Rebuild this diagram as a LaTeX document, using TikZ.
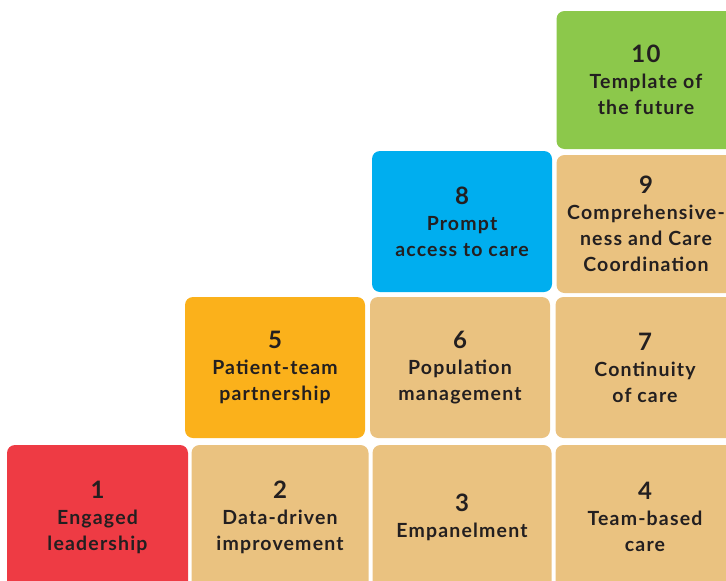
\documentclass[tikz,border=0pt]{standalone}
\usepackage{fontspec}
\setsansfont{Lato}[LetterSpace=6]
\usepackage{tikz}
\usetikzlibrary{positioning}
\definecolor{pcred}{HTML}{EE3B44}
\definecolor{pctan}{HTML}{EAC280}
\definecolor{pcorange}{HTML}{FBB11B}
\definecolor{pcblue}{HTML}{00AEEF}
\definecolor{pcgreen}{HTML}{8CC84B}
\definecolor{pctext}{HTML}{231F20}
\newcommand{\tilenum}[1]{{\fontsize{24}{27}\selectfont #1}}

\begin{document}
\begin{tikzpicture}[
    x=1pt, y=-1pt,
    tile/.style={rectangle, rounded corners=8pt, minimum width=179pt, minimum height=141pt, inner sep=0pt, align=center, text=pctext, font=\sffamily\bfseries\fontsize{19.5}{26}\selectfont}
]

\clip (0,0) rectangle (726,581);

% Bottom row
\node[tile, fill=pcred, minimum width=181pt, minimum height=144pt] (t1) at (97.5,517) {\tilenum{1}\\Engaged\\leadership};
\node[tile, fill=pctan, minimum width=177pt, minimum height=144pt] (t2) at (280,517) {\tilenum{2}\\Data-driven\\improvement};
\node[tile, fill=pctan, minimum height=144pt] (t3) at (462,517) {\tilenum{3}\\Empanelment};
\node[tile, fill=pctan, minimum height=144pt] (t4) at (645,517) {\tilenum{4}\\Team-based\\care};

% Second row
\node[tile, fill=pcorange, minimum width=180pt] (t5) at (275,367.5) {\tilenum{5}\\Patient-team\\partnership};
\node[tile, fill=pctan, minimum width=180pt] (t6) at (460,367.5) {\tilenum{6}\\Population\\management};
\node[tile, fill=pctan] (t7) at (645,367.5) {\tilenum{7}\\Continuity\\of care};

% Third row
\node[tile, fill=pcblue, minimum width=180pt] (t8) at (462,221.5) {\tilenum{8}\\Prompt\\access to care};
\node[tile, fill=pctan, minimum height=138pt] (t9) at (646,224) {\tilenum{9}\\Comprehensive-\\ness and Care\\Coordination};

% Top
\node[tile, fill=pcgreen, minimum height=138pt] (t10) at (646,80) {\tilenum{10}\\Template of\\the future};

\end{tikzpicture}
\end{document}
